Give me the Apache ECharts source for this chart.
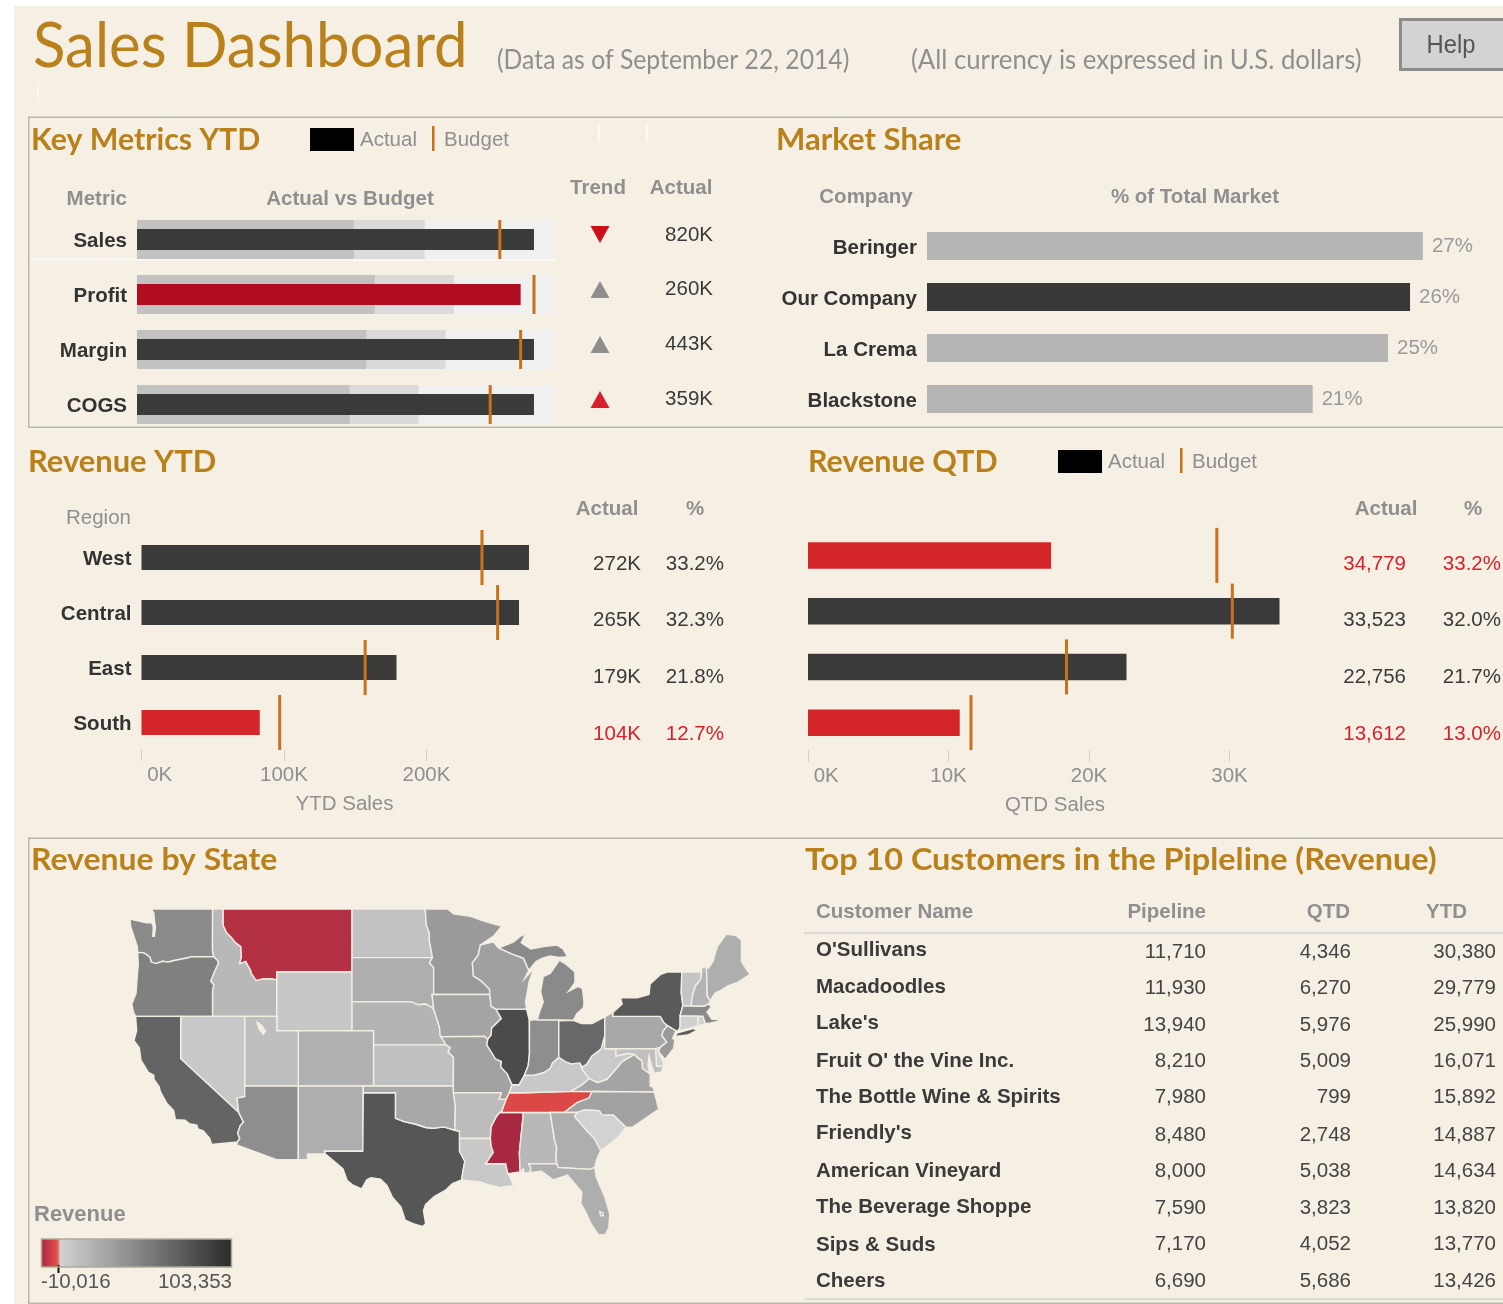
<!DOCTYPE html>
<html>
<head>
<meta charset="utf-8">
<title>Sales Dashboard</title>
<script src="https://cdn.jsdelivr.net/npm/echarts@6/dist/echarts.min.js"></script>
<style>
html, body { margin: 0; padding: 0; background: #fff; }
#main { width: 1503px; height: 1304px; }
</style>
</head>
<body>
<div id="main"></div>
<script>
// key metrics (bar values are % of the bullet's length)
var metrics = ["Sales", "Profit", "Margin", "COGS"];
var metricBand1 = [52, 57, 55, 51];
var metricBand2 = [69, 76, 74, 67.5];
var metricBand3 = [100, 100, 100, 100];
var metricActual = [95.2, 92, 95.2, 95.2];
var metricBudget = [87, 95.2, 92, 84.7];
var metricTrend = ["down", "up", "up", "up"];
var metricTrendBad = [true, false, false, true];
var metricLabels = ["820K", "260K", "443K", "359K"];

// market share
var companies = ["Beringer", "Our Company", "La Crema", "Blackstone"];
var companyShare = [27, 26.3, 25.1, 21];

// revenue
var regions = ["West", "Central", "East", "South"];
var ytdActual = [272, 265, 179, 83];
var ytdBudget = [239, 250, 157, 97];
var ytdLabels = ["272K", "265K", "179K", "104K"];
var ytdPct = ["33.2%", "32.3%", "21.8%", "12.7%"];
var ytdTicks = [0, 100, 200];
var qtdActual = [17.3, 33.56, 22.67, 10.8];
var qtdBudget = [29.1, 30.2, 18.4, 11.6];
var qtdLabels = ["34,779", "33,523", "22,756", "13,612"];
var qtdPct = ["33.2%", "32.0%", "21.7%", "13.0%"];
var qtdTicks = [0, 10, 20, 30];

// customers table
var customers = ["O'Sullivans", "Macadoodles", "Lake's", "Fruit O' the Vine Inc.", "The Bottle Wine & Spirits",
    "Friendly's", "American Vineyard", "The Beverage Shoppe", "Sips & Suds", "Cheers"];
var customerPipeline = ["11,710", "11,930", "13,940", "8,210", "7,980", "8,480", "8,000", "7,590", "7,170", "6,690"];
var customerQtd = ["4,346", "6,270", "5,976", "5,009", "799", "2,748", "5,038", "3,823", "4,052", "5,686"];
var customerYtd = ["30,380", "29,779", "25,990", "16,071", "15,892", "14,887", "14,634", "13,820", "13,770", "13,426"];

// revenue by state
var stateRevenue = {
    WA: 45000, OR: 51000, CA: 68100, NV: 7300, ID: 17000, MT: -8100, WY: 7900, UT: 13400, CO: 21900, AZ: 42600,
    NM: 23100, ND: 10900, SD: 23100, NE: 19500, KS: 12200, OK: 26800, TX: 76600, MN: 35300, IA: 29200, MO: 30400,
    AR: 14600, LA: 7300, WI: 31600, IL: 83900, IN: 42600, MI: 45000, OH: 65700, KY: 7300, TN: -1900, MS: -9900,
    AL: 17000, GA: 23100, FL: 23100, SC: 1200, NC: 30400, VA: 29200, WV: 6100, PA: 26800, NY: 74200, NJ: 35300,
    DE: 2400, MD: 12200, CT: 2400, RI: 2400, MA: 45000, VT: 9700, NH: 19500, ME: 23100
};
var revenueMin = -10016;
var revenueMax = 103353;

// state outlines, lon/lat, first ring of each polygon is the outline, others are holes
var stateShapes = {
    WA: [[[[-117.03,49],[-122.76,49],[-122.5,48.75],[-122.45,48.3],[-122.35,47.9],[-122.45,47.3],[-122.6,47.3],[-122.55,47.9],[-122.7,48.15],[-123.2,48.15],[-124.72,48.38],[-124.65,47.9],[-124.2,47],[-124.05,46.65],[-124,46.27],[-123.5,46.26],[-123.2,46.15],[-122.85,45.95],[-122.75,45.65],[-122.3,45.55],[-121.7,45.7],[-121.2,45.65],[-120.6,45.75],[-119.9,45.85],[-119.3,45.93],[-119,46],[-116.92,46],[-117.04,46.42]]]],
    OR: [[[[-124,46.27],[-123.5,46.26],[-123.2,46.15],[-122.85,45.95],[-122.75,45.65],[-122.3,45.55],[-121.7,45.7],[-121.2,45.65],[-120.6,45.75],[-119.9,45.85],[-119.3,45.93],[-119,46],[-116.92,46],[-116.55,45.75],[-116.47,45.6],[-116.85,45],[-117.2,44.4],[-117.03,44.25],[-116.9,44.15],[-117.03,43.8],[-117.03,42],[-124.2,42],[-124.4,42.3],[-124.55,42.85],[-124.15,43.6],[-124.05,44.7],[-123.95,45.5]]]],
    ID: [[[[-117.03,49],[-116.05,49],[-116.05,48],[-115.75,47.55],[-115.3,47.25],[-114.9,46.9],[-114.4,46.65],[-114.35,46],[-114.5,45.55],[-113.95,45.7],[-113.45,45.05],[-113.45,44.95],[-113,44.45],[-112.3,44.55],[-111.5,44.55],[-111.05,44.48],[-111.05,42],[-117.03,42],[-117.03,43.8],[-116.9,44.15],[-117.03,44.25],[-117.2,44.4],[-116.85,45],[-116.47,45.6],[-116.55,45.75],[-116.92,46],[-117.04,46.42]]]],
    MT: [[[[-116.05,49],[-104.05,49],[-104.05,45],[-111.05,45],[-111.05,44.48],[-111.5,44.55],[-112.3,44.55],[-113,44.45],[-113.45,44.95],[-113.45,45.05],[-113.95,45.7],[-114.5,45.55],[-114.35,46],[-114.4,46.65],[-114.9,46.9],[-115.3,47.25],[-115.75,47.55],[-116.05,48]]]],
    WY: [[[[-111.05,45],[-104.05,45],[-104.05,41],[-111.05,41]]]],
    ND: [[[[-104.05,49],[-97.23,49],[-97.13,48],[-96.85,47.5],[-96.85,47],[-96.56,45.94],[-104.05,45.94]]]],
    SD: [[[[-104.05,45.94],[-96.56,45.94],[-96.85,45.6],[-96.45,45.3],[-96.45,43.5],[-96.6,43.5],[-96.45,42.5],[-96.7,42.65],[-97.2,42.85],[-97.9,42.8],[-98.5,43],[-104.05,43]]]],
    NE: [[[[-104.05,43],[-98.5,43],[-97.9,42.8],[-97.2,42.85],[-96.7,42.65],[-96.45,42.5],[-96.1,41.7],[-95.9,41.2],[-95.85,40.7],[-95.3,40],[-102.05,40],[-102.05,41],[-104.05,41]]]],
    KS: [[[[-102.05,40],[-95.3,40],[-94.9,39.8],[-95.1,39.5],[-94.6,39.1],[-94.62,37],[-102.05,37]]]],
    CO: [[[[-109.05,41],[-102.05,41],[-102.05,37],[-109.05,37]]]],
    UT: [[[[-114.04,42],[-111.05,42],[-111.05,41],[-109.05,41],[-109.05,37],[-114.04,37]],[[-112.9,41.6],[-112.7,41.1],[-112.3,40.75],[-112.1,41],[-112.5,41.4]]]],
    NV: [[[[-120,42],[-114.04,42],[-114.04,36.2],[-114.75,36.1],[-114.6,35],[-120,39]]]],
    CA: [[[[-124.2,42],[-120,42],[-120,39],[-114.6,35],[-114.15,34.27],[-114.45,34],[-114.7,33.4],[-114.5,33],[-114.72,32.72],[-117.12,32.53],[-117.3,33],[-117.9,33.6],[-118.4,33.75],[-118.5,34.03],[-119.2,34.15],[-119.6,34.42],[-120.5,34.45],[-120.65,35.15],[-121.3,35.7],[-121.9,36.6],[-122,36.95],[-122.5,37.5],[-122.5,37.8],[-123,38],[-123.7,38.9],[-123.85,39.8],[-124.35,40.3],[-124.1,41]]]],
    AZ: [[[[-114.04,37],[-109.05,37],[-109.05,31.33],[-111.07,31.33],[-114.81,32.5],[-114.72,32.72],[-114.5,33],[-114.7,33.4],[-114.45,34],[-114.15,34.27],[-114.6,35],[-114.75,36.1],[-114.04,36.2]]]],
    NM: [[[[-109.05,37],[-103,37],[-103.05,32],[-106.62,32],[-106.53,31.78],[-108.2,31.78],[-108.2,31.33],[-109.05,31.33]]]],
    TX: [[[[-106.62,32],[-103.05,32],[-103,36.5],[-100,36.5],[-100,34.56],[-99.2,34.3],[-98.1,34.1],[-97.2,33.85],[-96.5,33.8],[-95.5,33.9],[-94.48,33.64],[-94.04,33.55],[-94.04,33],[-94.04,32],[-93.55,31.2],[-93.7,30.5],[-93.85,29.7],[-94.7,29.4],[-95.3,28.9],[-96.4,28.35],[-97.2,27.7],[-97.4,27.2],[-97.2,26.1],[-97.5,25.87],[-98.2,26.05],[-99.1,26.4],[-99.5,27.5],[-100.3,28.3],[-100.8,29.25],[-101.4,29.77],[-102.3,29.88],[-102.7,29.7],[-103.15,28.98],[-104,29.3],[-104.5,29.65],[-104.9,30.6],[-106,31.4],[-106.53,31.78]]]],
    OK: [[[[-103,37],[-94.62,37],[-94.43,35.4],[-94.48,33.64],[-95.5,33.9],[-96.5,33.8],[-97.2,33.85],[-98.1,34.1],[-99.2,34.3],[-100,34.56],[-100,36.5],[-103,36.5]]]],
    MN: [[[[-97.23,49],[-95.15,49],[-94.6,48.7],[-93,48.55],[-92,48.3],[-91,48.1],[-90.1,47.95],[-90.9,47.3],[-92.1,46.75],[-92.3,46.1],[-92.85,45.6],[-92.75,44.75],[-92,44.4],[-91.25,43.85],[-91.22,43.5],[-96.45,43.5],[-96.45,45.3],[-96.85,45.6],[-96.56,45.94],[-96.85,47],[-96.85,47.5],[-97.13,48]]]],
    IA: [[[[-96.45,43.5],[-91.22,43.5],[-91.1,42.7],[-90.65,42.5],[-90.15,41.85],[-91.05,41.2],[-91.1,40.7],[-91.42,40.38],[-91.7,40.6],[-95.77,40.58],[-95.85,40.7],[-95.9,41.2],[-96.1,41.7],[-96.45,42.5],[-96.6,43.5]]]],
    MO: [[[[-95.77,40.58],[-91.7,40.6],[-91.42,40.38],[-91.5,40],[-90.7,39],[-90.15,38.8],[-90.2,38.4],[-89.6,37.9],[-89.15,37.1],[-89.4,36.5],[-89.7,36],[-90.37,36],[-90.15,36.5],[-94.62,36.5],[-94.62,37],[-94.6,39.1],[-95.1,39.5],[-94.9,39.8],[-95.3,40]]]],
    AR: [[[[-94.62,36.5],[-90.15,36.5],[-90.37,36],[-89.7,36],[-90.1,35.1],[-90.6,34.7],[-91.1,33.9],[-91.17,33],[-94.04,33],[-94.04,33.55],[-94.48,33.64],[-94.43,35.4]]]],
    LA: [[[[-94.04,33],[-91.17,33],[-91.1,32.4],[-90.9,31.9],[-91.6,31],[-89.75,31],[-89.55,30.2],[-89.4,30.05],[-89,29.2],[-89.6,29.2],[-90.2,29.1],[-91.3,29.3],[-92.2,29.55],[-93.85,29.7],[-93.7,30.5],[-93.55,31.2],[-94.04,32]]]],
    MS: [[[[-91.17,33],[-91.1,33.9],[-90.6,34.7],[-90.3,35],[-88.2,35],[-88.1,34.9],[-88.47,31.9],[-88.4,30.35],[-89.55,30.2],[-89.75,31],[-91.6,31],[-90.9,31.9],[-91.1,32.4]]]],
    AL: [[[[-88.2,35],[-85.6,35],[-85.2,32.9],[-85,32.3],[-85.05,31.55],[-85,31],[-87.6,31],[-87.4,30.65],[-87.5,30.3],[-88,30.25],[-88.1,30.6],[-88.4,30.35],[-88.47,31.9],[-88.1,34.9]]]],
    TN: [[[[-89.7,36],[-89.4,36.5],[-88.05,36.5],[-83.68,36.6],[-81.68,36.59],[-82,36.1],[-83.1,35.75],[-84.3,35],[-85.6,35],[-88.2,35],[-90.3,35],[-90.1,35.1]]]],
    KY: [[[[-89.4,36.5],[-89.15,37.1],[-88.5,37.1],[-88,37.8],[-87.1,37.8],[-86.2,38],[-85.6,38.3],[-85.4,38.7],[-84.8,39.1],[-84.2,38.8],[-83.65,38.63],[-82.85,38.7],[-82.6,38.2],[-81.97,37.54],[-82.7,37.05],[-83.68,36.6],[-88.05,36.5]]]],
    IL: [[[[-90.65,42.5],[-87.8,42.5],[-87.55,41.75],[-87.53,39.35],[-87.65,38.5],[-88,37.8],[-88.5,37.1],[-89.15,37.1],[-89.6,37.9],[-90.2,38.4],[-90.15,38.8],[-90.7,39],[-91.5,40],[-91.42,40.38],[-91.1,40.7],[-91.05,41.2],[-90.15,41.85]]]],
    IN: [[[[-87.53,41.72],[-87.2,41.76],[-86.8,41.76],[-84.8,41.76],[-84.8,39.1],[-85.4,38.7],[-85.6,38.3],[-86.2,38],[-87.1,37.8],[-88,37.8],[-87.65,38.5],[-87.53,39.35]]]],
    OH: [[[[-84.8,41.7],[-83.45,41.73],[-82.7,41.5],[-81.7,41.5],[-80.52,41.97],[-80.52,40.64],[-80.85,39.7],[-81.7,39.2],[-82.2,38.6],[-82.6,38.4],[-82.85,38.7],[-83.65,38.63],[-84.2,38.8],[-84.8,39.1]]]],
    MI: [[[[-86.8,41.76],[-84.8,41.76],[-83.45,41.73],[-83.1,42.2],[-82.5,42.6],[-82.45,43],[-82.6,43.9],[-83,44.05],[-83.9,43.7],[-83.3,44.3],[-83.3,45],[-84.1,45.5],[-84.75,45.78],[-85.1,45.4],[-85.6,44.9],[-86.25,44.7],[-86.5,43.7],[-86.25,43],[-86.6,42.3]]],
        [[[-90.4,46.55],[-89,46.95],[-88.4,47.3],[-87.9,47.45],[-88.3,46.9],[-87.4,46.5],[-86.2,46.65],[-85,46.75],[-84.4,46.5],[-84,46],[-84.8,45.95],[-85.6,46.05],[-86.3,45.9],[-86.9,45.7],[-87.6,45.1],[-88.1,45.9],[-89.1,46.15]]]],
    WI: [[[[-92.1,46.75],[-90.9,46.95],[-90.4,46.55],[-89.1,46.15],[-88.1,45.9],[-87.6,45.1],[-88,44.55],[-87.1,45.25],[-87.55,44.4],[-87.75,43.6],[-87.9,43],[-87.8,42.5],[-90.65,42.5],[-91.1,42.7],[-91.22,43.5],[-91.25,43.85],[-92,44.4],[-92.75,44.75],[-92.85,45.6],[-92.3,46.1]]]],
    WV: [[[[-80.52,40.64],[-80.52,39.72],[-79.48,39.72],[-79.48,39.2],[-78.35,39.4],[-77.72,39.32],[-78.9,38.8],[-79.3,38.4],[-80.3,37.5],[-81.2,37.25],[-81.97,37.54],[-82.6,38.2],[-82.6,38.4],[-82.2,38.6],[-81.7,39.2],[-80.85,39.7]]]],
    VA: [[[[-83.68,36.6],[-81.68,36.59],[-75.9,36.55],[-76,36.9],[-76.3,37],[-76.3,37.9],[-77,38.3],[-77.05,38.85],[-77.5,39.1],[-77.72,39.32],[-78.9,38.8],[-79.3,38.4],[-80.3,37.5],[-81.2,37.25],[-81.97,37.54],[-82.7,37.05]]]],
    NC: [[[[-84.3,35],[-83.1,35.75],[-82,36.1],[-81.68,36.59],[-75.9,36.55],[-75.5,35.25],[-76.5,34.7],[-77.9,33.9],[-78.55,33.86],[-79.7,34.8],[-80.8,34.82],[-81.05,35.15],[-82.4,35.2],[-83.1,35]]]],
    SC: [[[[-83.1,35],[-82.4,35.2],[-81.05,35.15],[-80.8,34.82],[-79.7,34.8],[-78.55,33.86],[-79.2,33.2],[-80,32.6],[-80.9,32.05],[-81.4,32.6],[-81.5,33],[-82.2,33.6],[-83.35,34.7]]]],
    GA: [[[[-85.6,35],[-84.3,35],[-83.1,35],[-83.35,34.7],[-82.2,33.6],[-81.5,33],[-80.9,32.05],[-81.3,31.3],[-81.45,30.7],[-82,30.55],[-82.2,30.57],[-84.85,30.7],[-85,31],[-85.05,31.55],[-85,32.3],[-85.2,32.9]]]],
    FL: [[[[-87.6,31],[-85,31],[-84.85,30.7],[-82.2,30.57],[-82,30.55],[-81.45,30.7],[-81.3,29.9],[-80.55,28.4],[-80.05,26.9],[-80.15,25.75],[-80.45,25.2],[-81.1,25.15],[-81.8,26.1],[-82.2,26.9],[-82.75,27.8],[-82.65,28.7],[-83.4,29.5],[-84,30.1],[-85.3,29.7],[-86.4,30.4],[-87.5,30.3],[-87.4,30.65]],[[-81,27.1],[-80.7,27],[-80.65,26.75],[-80.9,26.75]]]],
    PA: [[[[-80.52,41.97],[-79.76,42.27],[-79.76,42],[-75.35,42],[-75.05,41.6],[-74.7,41.36],[-75.1,40.95],[-75.2,40.65],[-74.75,40.2],[-75.4,39.8],[-75.8,39.72],[-80.52,39.72],[-80.52,40.64]]]],
    NY: [[[[-79.76,42.27],[-78.9,42.85],[-79.05,43.27],[-77.5,43.27],[-76.4,43.5],[-76.3,44.2],[-75.3,44.85],[-74.7,45],[-73.35,45],[-73.4,43.6],[-73.25,42.75],[-73.5,42.05],[-73.5,41.3],[-73.65,41],[-73.9,41],[-74.7,41.36],[-75.05,41.6],[-75.35,42],[-79.76,42]]],
        [[[-74,40.6],[-73.75,40.85],[-72.3,41.15],[-71.9,41.05],[-72.8,40.7]]]],
    NJ: [[[[-74.7,41.36],[-73.9,41],[-74.2,40.45],[-74,40.4],[-74.1,39.75],[-74.9,38.95],[-75.5,39.5],[-75.4,39.8],[-74.75,40.2],[-75.2,40.65],[-75.1,40.95]]]],
    DE: [[[[-75.8,39.72],[-75.4,39.8],[-75.55,39.5],[-75.1,38.8],[-75.05,38.45],[-75.7,38.46]]]],
    MD: [[[[-79.48,39.72],[-75.8,39.72],[-75.7,38.46],[-75.05,38.45],[-75.25,38.03],[-75.9,37.95],[-76.2,38.6],[-76.4,39.2],[-76.5,38.5],[-76.3,37.9],[-77,38.3],[-77.05,38.85],[-77.5,39.1],[-77.72,39.32],[-78.35,39.4],[-79.48,39.2]]]],
    CT: [[[[-73.5,42.05],[-71.8,42.02],[-71.85,41.32],[-73.65,41],[-73.5,41.3]]]],
    RI: [[[[-71.8,42.02],[-71.38,42.02],[-71.15,41.5],[-71.85,41.32]]]],
    MA: [[[[-73.5,42.05],[-73.25,42.75],[-71.3,42.7],[-70.85,42.87],[-70.6,42.65],[-71,42.3],[-70.55,41.8],[-70,41.8],[-70,42.05],[-69.95,41.67],[-70.65,41.55],[-71.15,41.5],[-71.38,42.02]]]],
    VT: [[[[-73.35,45],[-71.5,45],[-71.6,44.5],[-72.05,44.1],[-72.3,43.6],[-72.45,43],[-72.45,42.73],[-73.25,42.75],[-73.4,43.6]]]],
    NH: [[[[-71.5,45.3],[-71.05,45.3],[-70.98,43.4],[-70.7,43.07],[-70.85,42.87],[-71.3,42.7],[-72.45,42.73],[-72.45,43],[-72.3,43.6],[-72.05,44.1],[-71.6,44.5],[-71.5,45]]]],
    ME: [[[[-71.05,45.3],[-70.85,45.25],[-70.4,45.75],[-70.25,46.2],[-70,46.7],[-69.2,47.45],[-68.3,47.35],[-67.8,47.07],[-67.8,45.7],[-67.45,45.3],[-67,44.85],[-68.2,44.3],[-69,44.1],[-69.8,43.75],[-70.25,43.6],[-70.7,43.07],[-70.98,43.4]]]]
};

var BODY = "Liberation Sans";
var HEAD = "Lato";
var GOLD = "#b8811c", GREY = "#8f8f8f", INK = "#3a3a3a", RED = "#d42628", ORANGE = "#c8711a", DARK = "#3a3a3a";

var marks = [];

function text(x, y, s, o) {
    o = o || {};
    marks.push({
        type: "text", x: x, y: y + 1, scaleX: o.sx || 1, silent: true,
        style: {
            text: s, fill: o.color || GREY,
            font: (o.weight || "normal") + " " + (o.size || 20.5) + "px '" + (o.family || BODY) + "'",
            textAlign: o.align || "left", textVerticalAlign: "middle"
        }
    });
}

function rect(x, y, w, h, fill, extra) {
    var el = { type: "rect", silent: true, shape: { x: x, y: y, width: w, height: h }, style: { fill: fill } };
    for (var k in (extra || {})) { el[k] = extra[k]; }
    marks.push(el);
}

function column(x, ys, list, o) {
    list.forEach(function (s, i) { text(x, ys[i], s, typeof o === "function" ? o(i) : o); });
}

function heading(x, y, s, sx) { text(x, y, s, { color: GOLD, weight: "bold", size: 30, family: HEAD, sx: sx }); }

function legendKey(x, y) {
    rect(x, y - 11, 44, 23, "#000");
    text(x + 50, y, "Actual");
    rect(x + 122, y - 13, 2.5, 25, ORANGE);
    text(x + 134, y, "Budget");
}

// page and frames
rect(14, 6, 1489, 1298, "#f6f0e4");
rect(28, 116.5, 1475, 1.5, "#b9b7ae");
rect(28, 116.5, 1.5, 311, "#b9b7ae");
rect(28, 426.5, 1475, 1.5, "#b9b7ae");
rect(28, 837.5, 1475, 1.5, "#b9b7ae");
rect(28, 837.5, 1.5, 466, "#b9b7ae");
rect(28, 1302.5, 1475, 1.5, "#b9b7ae");
rect(31, 258.5, 524, 2, "#fbf9f5");
rect(598, 125, 2, 17, "#fbf9f5");
rect(646, 125, 2, 17, "#fbf9f5");
rect(37, 84, 1.5, 16, "#fbf9f5");

// header
text(33, 46, "Sales Dashboard", { color: GOLD, size: 62, family: HEAD, sx: 0.967 });
text(497, 59, "(Data as of September 22, 2014)", { size: 27, family: HEAD, sx: 0.917 });
text(911, 59, "(All currency is expressed in U.S. dollars)", { size: 27, family: HEAD, sx: 0.953 });
marks.push({ type: "rect", silent: true, shape: { x: 1400.5, y: 19.5, width: 110, height: 50 },
    style: { fill: "#d3d3d3", stroke: "#8c8c8c", lineWidth: 3 } });
text(1451, 45, "Help", { color: "#555", size: 25, align: "center", sx: 0.95 });

// key metrics text
heading(31, 139, "Key Metrics YTD", 1.01);
legendKey(310, 139);
text(127, 198, "Metric", { weight: "bold", align: "right" });
text(350, 198, "Actual vs Budget", { weight: "bold", align: "center" });
text(598, 187, "Trend", { weight: "bold", align: "center" });
text(681, 187, "Actual", { weight: "bold", align: "center" });
column(713, [234, 288, 343, 398], metricLabels, { color: INK, align: "right" });

// market share text
heading(776, 139, "Market Share", 1.035);
text(866, 196, "Company", { weight: "bold", align: "center" });
text(1195, 196, "% of Total Market", { weight: "bold", align: "center" });

// revenue text
var revenueRows = [563, 619, 676, 733];
heading(28, 461, "Revenue YTD", 1.03);
text(66, 517, "Region");
text(607, 508, "Actual", { weight: "bold", align: "center" });
text(695, 508, "%", { weight: "bold", align: "center" });
var ytdColor = function (i) { return { color: ytdActual[i] < ytdBudget[i] ? "#d8202c" : INK, align: "right" }; };
column(641, revenueRows, ytdLabels, ytdColor);
column(724, revenueRows, ytdPct, ytdColor);

heading(808, 461, "Revenue QTD", 1.015);
legendKey(1058, 461);
text(1386, 508, "Actual", { weight: "bold", align: "center" });
text(1473, 508, "%", { weight: "bold", align: "center" });
var qtdColor = function (i) { return { color: qtdActual[i] < qtdBudget[i] ? "#d8202c" : INK, align: "right" }; };
column(1406, revenueRows, qtdLabels, qtdColor);
column(1501, revenueRows, qtdPct, qtdColor);

// map text
heading(31, 859, "Revenue by State", 1.065);
text(34, 1214, "Revenue", { weight: "bold", size: 22 });
text(41, 1281, "-10,016", { color: "#555" });
text(232, 1281, "103,353", { color: "#555", align: "right" });

// table
heading(805, 859, "Top 10 Customers in the Pipleline (Revenue)", 1.08);
text(816, 911, "Customer Name", { weight: "bold" });
text(1206, 911, "Pipeline", { weight: "bold", align: "right" });
text(1350, 911, "QTD", { weight: "bold", align: "right" });
text(1467, 911, "YTD", { weight: "bold", align: "right" });
rect(804, 932, 699, 2, "#d9d8d4");
rect(804, 1298, 699, 2, "#dedcd6");
var tableNameRows = [949, 986, 1022, 1060, 1096, 1132, 1170, 1206, 1244, 1280];
var tableRows = [951, 987, 1024, 1060, 1096, 1134, 1170, 1207, 1243, 1280];
column(816, tableNameRows, customers, { color: INK, weight: "bold" });
column(1206, tableRows, customerPipeline, { color: "#444", align: "right" });
column(1351, tableRows, customerQtd, { color: "#444", align: "right" });
column(1496, tableRows, customerYtd, { color: "#444", align: "right" });

// on top of the colour bar
rect(57.5, 1265, 2, 8, "#111", { z: 100 });
marks.push({ type: "rect", silent: true, z: 100, shape: { x: 41.5, y: 1239, width: 190, height: 28 },
    style: { fill: "none", stroke: "#aea996", lineWidth: 1.5 } });

echarts.registerMap("us", {
    type: "FeatureCollection",
    features: Object.keys(stateShapes).map(function (id) {
        return { type: "Feature", properties: { name: id }, geometry: { type: "MultiPolygon", coordinates: stateShapes[id] } };
    })
});

// colour bar: red below zero, light grey to near black above it
var revenueColors = [];
for (var v = revenueMin; v <= revenueMax; v += 1000) {
    if (v < 0) {
        var t = (v - revenueMin) / -revenueMin;
        revenueColors.push("rgb(" + Math.round(168 + 64 * t) + "," + Math.round(40 + 40 * t) + "," + Math.round(66 + 4 * t) + ")");
    } else {
        var g = Math.round(212 - 170 * v / revenueMax);
        revenueColors.push("rgb(" + g + "," + g + "," + g + ")");
    }
}

var rad = Math.PI / 180;
var mercator = {
    project: function (p) { return [p[0], -Math.log(Math.tan(Math.PI / 4 + p[1] * rad / 2)) / rad]; },
    unproject: function (p) { return [p[0], (2 * Math.atan(Math.exp(-p[1] * rad)) - Math.PI / 2) / rad]; }
};

function hiddenCategory(gridIndex, list) {
    return { type: "category", gridIndex: gridIndex, data: list, inverse: true, show: false };
}

function labelCategory(gridIndex, list) {
    return {
        type: "category", gridIndex: gridIndex, data: list, inverse: true,
        axisLine: { show: false }, axisTick: { show: false },
        axisLabel: {
            margin: 10,
            formatter: function (value) { return "{a|" + value + "}"; },
            // rich padding nudges the names down to sit level with the bars
            rich: { a: { color: "#333", fontFamily: BODY, fontWeight: "bold", fontSize: 20.5, padding: [4, 0, 0, 0] } }
        }
    };
}

function hiddenValue(gridIndex, max) {
    return { type: "value", gridIndex: gridIndex, min: 0, max: max, show: false };
}

function tickedValue(gridIndex, max, ticks, name) {
    return {
        type: "value", gridIndex: gridIndex, min: 0, max: max, splitLine: { show: false },
        name: name, nameLocation: "middle", nameGap: 44,
        nameTextStyle: { color: GREY, fontFamily: BODY, fontSize: 20.5 },
        axisLine: { show: false },
        axisTick: { show: true, length: 11, lineStyle: { color: "#cfcdc6" }, customValues: ticks },
        axisLabel: {
            customValues: ticks, color: GREY, fontFamily: BODY, fontSize: 20.5, margin: 15, alignMinLabel: "left",
            formatter: function (value) { return (value === 0 ? "\u00a0" : "") + value + "K"; }
        }
    };
}

function markerSeries(x, y, list, cats, height, width) {
    return {
        type: "scatter", xAxisIndex: x, yAxisIndex: y, symbol: "rect", symbolSize: [width, height], z: 5, silent: true,
        data: list.map(function (value, i) { return [value, cats[i]]; }),
        itemStyle: { color: ORANGE, opacity: 1 }
    };
}

function actualSeries(x, y, actual, budget, width, badColor) {
    return {
        type: "bar", xAxisIndex: x, yAxisIndex: y, barWidth: width, z: 4, silent: true,
        data: actual.map(function (value, i) {
            return { value: value, itemStyle: { color: value < budget[i] ? badColor : DARK } };
        })
    };
}

function bandSeries(list, color, z) {
    return { type: "bar", xAxisIndex: 0, yAxisIndex: 0, barWidth: 39, barGap: "-100%", z: z, silent: true, data: list, itemStyle: { color: color } };
}

var option = {
    animation: false,
    backgroundColor: "#fff",
    graphic: { elements: marks },
    grid: [
        { left: 137, top: 212, width: 417, height: 220 },
        { left: 585, top: 207, width: 30, height: 220 },
        { left: 927, top: 220.5, width: 551, height: 204 },
        { left: 141.5, top: 530, width: 406, height: 220 },
        { left: 808, top: 527.5, width: 494, height: 223 }
    ],
    xAxis: [
        hiddenValue(0, 100),
        hiddenValue(1, 2),
        hiddenValue(2, 30),
        tickedValue(3, 285, ytdTicks, "YTD Sales"),
        tickedValue(4, 35.16, qtdTicks, "QTD Sales")
    ],
    yAxis: [
        labelCategory(0, metrics),
        hiddenCategory(0, metrics),
        hiddenCategory(1, metrics),
        labelCategory(2, companies),
        labelCategory(3, regions),
        hiddenCategory(4, regions)
    ],
    visualMap: {
        type: "continuous", seriesIndex: 11, min: revenueMin, max: revenueMax, calculable: false, realtime: false,
        orient: "horizontal", left: 26, top: 1224, itemWidth: 28, itemHeight: 191, text: null, showLabel: false,
        textStyle: { fontSize: 0 },
        inRange: { color: revenueColors }
    },
    series: [
        bandSeries(metricBand3, "#f0f0f0", 1),
        bandSeries(metricBand2, "#dadada", 2),
        bandSeries(metricBand1, "#c2c2c2", 3),
        actualSeries(0, 1, metricActual, metricBudget, 21, "#b00e20"),
        markerSeries(0, 0, metricBudget, metrics, 39, 3),
        {
            type: "scatter", xAxisIndex: 1, yAxisIndex: 2, symbol: "triangle", symbolSize: [19, 17], silent: true,
            data: metricTrend.map(function (dir, i) {
                return {
                    value: [1, metrics[i]], symbolRotate: dir === "down" ? 180 : 0,
                    itemStyle: { opacity: 1, color: metricTrendBad[i] ? (dir === "down" ? "#cc1018" : "#d8202c") : "#8e8e8e" }
                };
            })
        },
        {
            type: "bar", xAxisIndex: 2, yAxisIndex: 3, barWidth: 28, silent: true,
            data: companyShare.map(function (value, i) {
                return { value: value, itemStyle: { color: companies[i] === "Our Company" ? "#383838" : "#b5b5b5" } };
            }),
            label: {
                show: true, position: "right", distance: 9, color: "#9a9a9a", fontFamily: BODY, fontSize: 20.5,
                formatter: function (p) { return Math.round(p.value) + "%"; }
            }
        },
        actualSeries(3, 4, ytdActual, ytdBudget, 25, RED),
        markerSeries(3, 4, ytdBudget, regions, 55, 3),
        actualSeries(4, 5, qtdActual, qtdBudget, 26.5, RED),
        markerSeries(4, 5, qtdBudget, regions, 55, 3),
        {
            type: "map", map: "us", projection: mercator, left: 130, top: 909, width: 620, height: 326, roam: false, silent: true,
            nameProperty: "name",
            label: { show: false },
            itemStyle: { borderColor: "#f3eee3", borderWidth: 1.4 },
            data: Object.keys(stateRevenue).map(function (id) { return { name: id, value: stateRevenue[id] }; })
        }
    ]
};

var myChart = echarts.init(document.getElementById("main"));
myChart.setOption(option);
window.addEventListener("resize", function () {
    myChart.resize();
});
</script>
</body>
</html>
